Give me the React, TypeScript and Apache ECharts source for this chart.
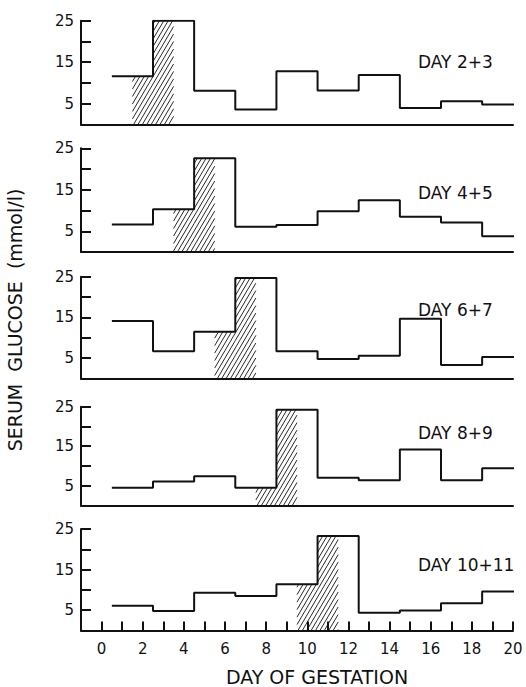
import React, { useEffect, useRef } from "react";
import * as echarts from "echarts";

// Bin edges (day of gestation) shared by all panels
const binEdges = [0.5, 2.5, 4.5, 6.5, 8.5, 10.5, 12.5, 14.5, 16.5, 18.5, 20.5];

// Serum glucose (mmol/l) per two-day bin, one array per injection period
const day2_3 = [11.6, 25, 8.1, 3.6, 12.8, 8.2, 11.9, 4.0, 5.6, 4.8];
const day4_5 = [6.6, 10.3, 22.6, 6.1, 6.5, 9.8, 12.5, 8.5, 7.1, 3.8];
const day6_7 = [14.1, 6.7, 11.5, 24.7, 6.7, 4.8, 5.6, 14.7, 3.3, 5.3];
const day8_9 = [4.5, 6.1, 7.4, 4.5, 24.2, 7.0, 6.4, 14.2, 6.4, 9.4];
const day10_11 = [6.1, 4.8, 9.3, 8.5, 11.4, 23.3, 4.4, 4.9, 6.7, 9.6];

const panelLabels = ["DAY 2+3", "DAY 4+5", "DAY 6+7", "DAY 8+9", "DAY 10+11"];
const panelValues = [day2_3, day4_5, day6_7, day8_9, day10_11];
// Hatched (treatment) interval start; each covers two days
const hatchStarts = [1.5, 3.5, 5.5, 7.5, 9.5];
const hatchWidth = 2;

const yTickLabels = [5, 15, 25];
const xTickLabels = [0, 2, 4, 6, 8, 10, 12, 14, 16, 18, 20];

const xTitle = "DAY OF GESTATION";
const yTitle = "SERUM  GLUCOSE  (mmol/l)";

const INK = "#111";
const FONT = "DejaVu Sans";

// layout: [top, bottom] pixel of each panel's y range
const panelBox = [
  [20.7, 124.5],
  [148.3, 252],
  [276.7, 378.5],
  [406.7, 505.5],
  [529, 630.5],
];
const labelY = [62, 193, 310, 433, 565];

function hatchRender(params: any, api: any) {
  const x0v = api.value(0);
  const x1v = api.value(1);
  const h = api.value(2);
  const pA = api.coord([x0v, h]);
  const pB = api.coord([x1v, 0]);
  const x0 = pA[0], y0 = pA[1], x1 = pB[0], y1 = pB[1];
  const k = 1.7;
  const dc = k * 4.4;
  const children: any[] = [];
  const cStart = Math.ceil((y0 + k * x0) / dc) * dc;
  const cEnd = y1 + k * x1;
  for (let c = cStart; c <= cEnd; c += dc) {
    const xa = Math.max(x0, (c - y1) / k);
    const xb = Math.min(x1, (c - y0) / k);
    if (xb <= xa) continue;
    children.push({
      type: "line",
      shape: { x1: xa, y1: c - k * xa, x2: xb, y2: c - k * xb },
      style: { stroke: INK, lineWidth: 0.9 },
    });
  }
  return { type: "group", children };
}

export default function App() {
  const ref = useRef<HTMLDivElement>(null);
  useEffect(() => {
    if (!ref.current) return;
    const chart = echarts.init(ref.current, null, { renderer: "svg" });
    const grids: any[] = [];
    const xAxes: any[] = [];
    const yAxes: any[] = [];
    const series: any[] = [];
    const graphics: any[] = [];
    panelValues.forEach((vals, i) => {
      const [top, bottom] = panelBox[i];
      const last = i === panelValues.length - 1;
      grids.push({ left: 81, width: 432, top, height: bottom - top });
      xAxes.push({
        type: "value",
        gridIndex: i,
        min: -1,
        max: 20,
        interval: 1,
        axisLine: { show: true, onZero: false, lineStyle: { color: INK, width: 2 } },
        axisTick: { show: last, inside: true, length: 9, lineStyle: { color: INK, width: 2 } },
        axisLabel: {
          show: last,
          margin: 11,
          color: INK,
          fontFamily: FONT,
          fontSize: 15,
          formatter: (v: number) => (xTickLabels.includes(v) ? String(v) : ""),
        },
        splitLine: { show: false },
      });
      yAxes.push({
        type: "value",
        gridIndex: i,
        min: 0,
        max: 25,
        interval: 5,
        axisLine: { show: true, onZero: false, lineStyle: { color: INK, width: 2 } },
        axisTick: { show: true, inside: true, length: 10, lineStyle: { color: INK, width: 2 } },
        axisLabel: {
          margin: 7,
          color: INK,
          fontFamily: FONT,
          fontSize: 15,
          formatter: (v: number) => (yTickLabels.includes(v) ? String(v) : ""),
        },
        splitLine: { show: false },
      });
      // hatch segments under the step line
      const hs = hatchStarts[i];
      const he = hs + hatchWidth;
      const hatchData: number[][] = [];
      for (let b = 0; b < vals.length; b++) {
        const a = Math.max(binEdges[b], hs);
        const e = Math.min(binEdges[b + 1], he);
        if (e > a) hatchData.push([a, e, vals[b]]);
      }
      series.push({
        type: "custom",
        xAxisIndex: i,
        yAxisIndex: i,
        renderItem: hatchRender,
        encode: { x: [0, 1], y: 2 },
        data: hatchData,
        z: 1,
        silent: true,
      });
      const stepData = vals.map((v, b) => [binEdges[b], v]);
      stepData.push([binEdges[vals.length], vals[vals.length - 1]]);
      series.push({
        type: "line",
        xAxisIndex: i,
        yAxisIndex: i,
        step: "end",
        symbol: "none",
        data: stepData,
        lineStyle: { color: INK, width: 2 },
        z: 3,
        silent: true,
      });
      graphics.push({
        type: "text",
        left: 418,
        top: labelY[i] - 9,
        style: { text: panelLabels[i], fill: INK, font: `17px "${FONT}"` },
      });
    });
    graphics.push({
      type: "text",
      x: 317,
      y: 677,
      style: {
        text: xTitle,
        fill: INK,
        font: `19px "${FONT}"`,
        align: "center",
        verticalAlign: "middle",
      },
    });
    graphics.push({
      type: "text",
      x: 15,
      y: 320,
      rotation: Math.PI / 2,
      style: {
        text: yTitle,
        fill: INK,
        font: `19px "${FONT}"`,
        align: "center",
        verticalAlign: "middle",
      },
    });
    chart.setOption({
      animation: false,
      backgroundColor: "#fff",
      grid: grids,
      xAxis: xAxes,
      yAxis: yAxes,
      series,
      graphic: graphics,
    });
    return () => chart.dispose();
  }, []);
  return (
    <div
      ref={ref}
      style={{ position: "absolute", left: 0, top: 0, width: 526, height: 687 }}
    />
  );
}
